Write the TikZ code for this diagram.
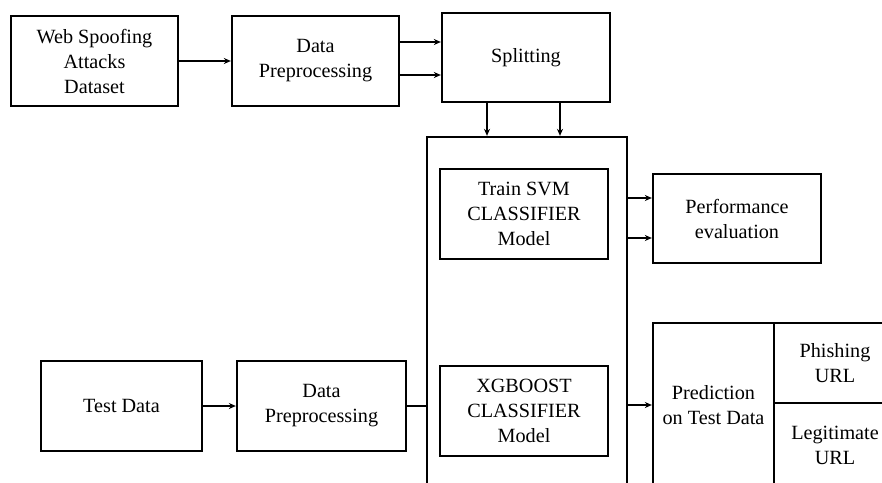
\documentclass[tikz,border=0pt]{standalone}
\usepackage{fontspec}
\setmainfont{Liberation Serif}
\usetikzlibrary{arrows.meta,calc}
\begin{document}
\begin{tikzpicture}[x=1pt,y=-1pt,
  box/.style={draw,line width=2.3pt,rectangle,inner sep=0pt,align=center,
    font=\fontsize{20.2}{25}\selectfont},
  arr/.style={line width=2pt,-{Stealth[length=7pt,width=6pt]}},
  plain/.style={line width=2pt}]
\useasboundingbox (0,0) rectangle (882,482);
\clip (0,0) rectangle (882,482);
\fill[white] (0,0) rectangle (882,482);
\node[box,minimum width=167pt,minimum height=90pt] (web) at (94.5,61) {Web Spoofing\\Attacks\\Dataset};
\node[box,minimum width=167pt,minimum height=90pt] (dp1) at (315.5,61) {Data\\Preprocessing};
\node[box,minimum width=168pt,minimum height=89pt] (split) at (526,57.5) {Splitting};
\node[box,minimum width=200pt,minimum height=366pt] (big) at (527,320) {};
\node[box,minimum width=168pt,minimum height=90pt] (svm) at (524,214) {Train SVM\\CLASSIFIER\\Model};
\node[box,minimum width=168pt,minimum height=89pt] (perf) at (737,218.5) {Performance\\evaluation};
\node[box,minimum width=161pt,minimum height=90pt] (test) at (121.5,406) {Test Data};
\node[box,minimum width=169pt,minimum height=90pt] (dp2) at (321.5,406) {Data\\Preprocessing};
\node[box,minimum width=168pt,minimum height=90pt] (xgb) at (524,411) {XGBOOST\\CLASSIFIER\\Model};
\node[box,minimum width=121pt,minimum height=164pt] (pred) at (713.5,405) {Prediction\\on Test Data};
\node[box,minimum width=122pt,minimum height=80pt] (phish) at (835,363) {Phishing\\URL};
\node[box,minimum width=122pt,minimum height=84pt] (legit) at (835,445) {Legitimate\\URL};
% connectors
\draw[arr] (web) -- (dp1);
\coordinate (s1) at ($(split.west)+(0,-15.5)$);
\coordinate (s2) at ($(split.west)+(0,17.5)$);
\draw[arr] (dp1.east |- s1) -- (s1);
\draw[arr] (dp1.east |- s2) -- (s2);
\coordinate (b1) at ($(big.north)+(-40,0)$);
\coordinate (b2) at ($(big.north)+(33,0)$);
\draw[arr] (split.south -| b1) -- (b1);
\draw[arr] (split.south -| b2) -- (b2);
\coordinate (p1) at ($(perf.west)+(0,-20.5)$);
\coordinate (p2) at ($(perf.west)+(0,19.5)$);
\draw[arr] (big.east |- p1) -- (p1);
\draw[arr] (big.east |- p2) -- (p2);
\draw[arr] (test) -- (dp2);
\draw[plain] (dp2.east) -- (big.west |- dp2.east);
\draw[arr] (big.east |- pred.west) -- (pred.west);
\end{tikzpicture}
\end{document}
